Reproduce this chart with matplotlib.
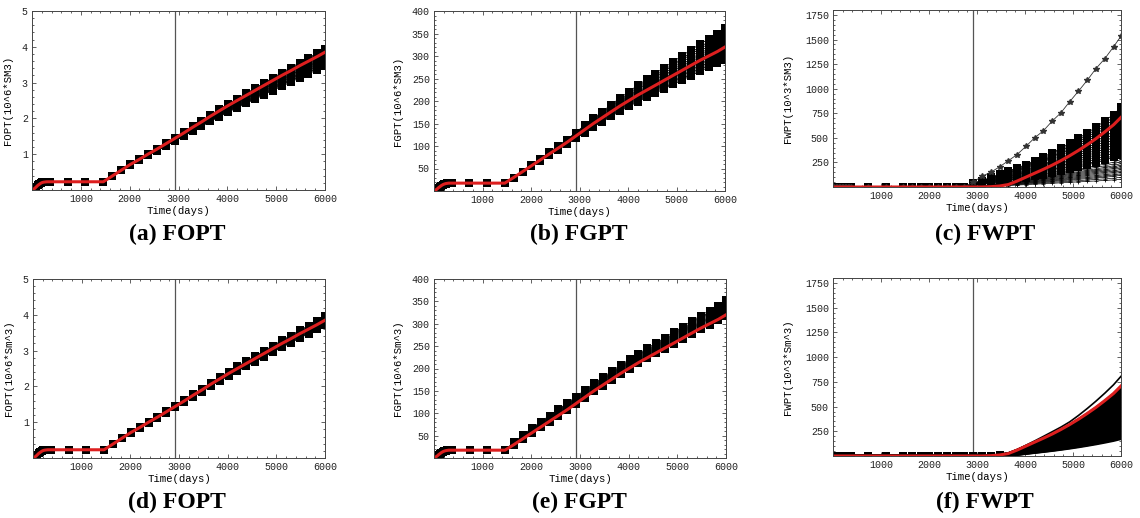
import matplotlib
matplotlib.use("Agg")
from matplotlib import pyplot as plt
from matplotlib.ticker import AutoMinorLocator

# report times (days)
days = [0, 31, 59, 90, 120, 151, 181, 212, 243, 273, 304, 334, 365,
        730, 1095, 1460,
        1643, 1826, 2008, 2191, 2374, 2556, 2739, 2922,
        3104, 3287, 3470, 3652, 3835, 4018, 4200, 4383, 4566, 4748,
        4931, 5114, 5296, 5479, 5662, 5844, 6000]
history_end = 2922

# reference (red) curves
fopt_ref = [0.0, 0.02, 0.05, 0.09, 0.13, 0.16, 0.19, 0.21, 0.22, 0.225, 0.23, 0.23, 0.23,
            0.23, 0.23, 0.23,
            0.39, 0.55, 0.71, 0.85, 1.00, 1.14, 1.29, 1.44,
            1.59, 1.75, 1.90, 2.06, 2.21, 2.36, 2.50, 2.64, 2.78, 2.92,
            3.06, 3.20, 3.33, 3.47, 3.60, 3.73, 3.85]
fgpt_ref = [0, 2, 4, 7, 9.5, 12, 14, 15.5, 16.5, 17, 17.5, 17.5, 17.5,
            17.5, 17.5, 17.5,
            30, 43, 56, 69, 82, 95, 108, 122,
            136, 150, 163, 176, 189, 201, 213, 224, 235, 246,
            257, 268, 279, 290, 300, 310, 320]
fwpt_ref = [0.0] * 25 + [3, 10, 25, 60, 100, 140, 180, 222, 268,
                         318, 372, 430, 492, 560, 632, 708]

# how far each member has moved away from the reference (0 = same, 1 = final spread)
cum_spread = [0.0] * 18 + [0.03, 0.06, 0.09, 0.12, 0.15, 0.19,
                           0.23, 0.27, 0.32, 0.37, 0.42, 0.47, 0.52, 0.57, 0.62, 0.67,
                           0.72, 0.77, 0.82, 0.86, 0.90, 0.95, 1.0]
fgpt_e_spread = [0.0] * 16 + [0.15, 0.25, 0.32, 0.36, 0.40, 0.43, 0.46, 0.48,
                              0.50, 0.52, 0.54, 0.56, 0.58, 0.60, 0.63, 0.66, 0.69, 0.72,
                              0.76, 0.80, 0.84, 0.88, 0.92, 0.96, 1.0]
fwpt_sq_shape = [0.0] * 23 + [0.05, 0.08, 0.12, 0.16, 0.20, 0.24, 0.28, 0.33, 0.38,
                              0.43, 0.49, 0.55, 0.61, 0.68, 0.75, 0.83, 0.91, 1.0]
fwpt_lo_shape = [0.0] * 24 + [0.04, 0.09, 0.14, 0.19, 0.25, 0.30, 0.36, 0.41, 0.47,
                              0.53, 0.59, 0.65, 0.71, 0.77, 0.83, 0.90, 1.0]

# final values of the ensemble members
fopt_a_end = [3.95, 3.92, 3.90, 3.88, 3.85, 3.82, 3.80, 3.78, 3.75, 3.72,
              3.70, 3.68, 3.65, 3.62, 3.60, 3.57, 3.55, 3.52, 3.50, 3.46]
fgpt_b_end = [362, 355, 350, 344, 338, 333, 328, 324, 320, 316, 312, 308, 304, 300, 296, 292]
fwpt_c_sq_end = [810, 780, 750, 720, 690, 660, 620, 590, 560, 530, 500, 470, 440, 410, 380, 350, 330]
fwpt_c_lo_end = [280, 260, 240, 225, 210, 195, 180, 165, 150, 135, 120, 100, 80]
fwpt_c_outlier = [0.0] * 23 + [50, 110, 150, 205, 267, 330, 413, 500, 572,
                               670, 755, 868, 975, 1085, 1205, 1305, 1425, 1535]
fopt_d_end = [3.96, 3.93, 3.91, 3.89, 3.87, 3.85, 3.83, 3.81, 3.79, 3.77, 3.75, 3.73, 3.71]
fgpt_e_end = [352, 348, 345, 342, 339, 336, 333, 330, 327, 324, 321, 318]
fwpt_f_end = [700, 690, 675, 660, 640, 620, 600, 580, 560, 540, 520, 500, 480, 460, 440,
              420, 400, 380, 360, 340, 320, 300, 280, 260, 240, 220, 200, 185, 175]
fwpt_f_top = [0.0] * 27 + [22, 62, 108, 152, 198, 245, 292, 345, 410, 480, 555, 635, 720, 806]

RED = '#dd1f1f'
MONO = 'Liberation Mono'

fig = plt.figure(figsize=(11.4, 5.18), dpi=100)


def add_axes(l, r, t, b):
    return fig.add_axes([l / 1140, 1 - b / 518, (r - l) / 1140, (b - t) / 518])


def member(ref, end, spread):
    return [r + (end - ref[-1]) * s for r, s in zip(ref, spread)]


def style(ax, yticks, ymax, ylabel, ylab_x, caption, cap_x, cap_y):
    ax.axvline(history_end, color='#555555', lw=0.9, zorder=0)
    ax.set_xlim(0, 6000)
    ax.set_ylim(0, ymax)
    ax.set_xticks([1000, 2000, 3000, 4000, 5000, 6000])
    ax.set_yticks(yticks)
    ax.xaxis.set_minor_locator(AutoMinorLocator(5))
    ax.yaxis.set_minor_locator(AutoMinorLocator(5))
    ax.tick_params(which='both', direction='in', top=True, right=True, width=0.5,
                   labelsize=7.2, pad=3, colors='#222222')
    ax.tick_params(which='major', length=3)
    ax.tick_params(which='minor', length=1.5)
    for lbl in ax.get_xticklabels() + ax.get_yticklabels():
        lbl.set_family(MONO)
    for sp in ax.spines.values():
        sp.set_linewidth(0.7)
        sp.set_color('#444444')
    ax.set_xlabel('Time(days)', family=MONO, fontsize=7.7)
    ax.xaxis.set_label_coords(0.5, -0.117)
    ax.xaxis.label.set_va('center')
    ax.set_ylabel(ylabel, family=MONO, fontsize=7.7)
    ax.yaxis.set_label_coords(ylab_x, 0.5)
    fig.text(cap_x / 1140, 1 - cap_y / 518, caption, ha='center', va='baseline',
             family='Liberation Serif', fontweight='bold', fontsize=17)


sq = dict(color='black', lw=0.6, marker='s', markersize=5.3, markeredgewidth=0)

# (a) FOPT
ax = add_axes(32, 325, 11, 190)
for e in fopt_a_end:
    ax.plot(days, member(fopt_ref, e, cum_spread), **sq)
ax.plot(days, fopt_ref, color=RED, lw=2.2)
style(ax, [1, 2, 3, 4, 5], 5, 'FOPT(10^6*SM3)', -0.065, '(a) FOPT', 177, 240)

# (b) FGPT
ax = add_axes(434, 725, 11, 191)
for e in fgpt_b_end:
    ax.plot(days, member(fgpt_ref, e, cum_spread), **sq)
ax.plot(days, fgpt_ref, color=RED, lw=2.2)
style(ax, [50, 100, 150, 200, 250, 300, 350, 400], 400, 'FGPT(10^6*SM3)', -0.107,
      '(b) FGPT', 579, 240)

# (c) FWPT
ax = add_axes(833, 1121, 10, 187)
for e in fwpt_c_lo_end:
    ax.plot(days, [e * s for s in fwpt_lo_shape], color='black', lw=0.5,
            marker='+', markersize=2.5, markeredgewidth=0.5)
for e in fwpt_c_sq_end:
    ax.plot(days, [e * s for s in fwpt_sq_shape], **sq)
ax.plot(days, fwpt_c_outlier, color='#333333', lw=0.6, marker='*', markersize=4)
ax.plot(days, fwpt_ref, color=RED, lw=2.2)
style(ax, [250, 500, 750, 1000, 1250, 1500, 1750], 1800, 'FWPT(10^3*SM3)', -0.139,
      '(c) FWPT', 985, 240)

# (d) FOPT
ax = add_axes(33, 325, 279, 458)
for e in fopt_d_end:
    ax.plot(days, member(fopt_ref, e, cum_spread), **sq)
ax.plot(days, fopt_ref, color=RED, lw=2.2)
style(ax, [1, 2, 3, 4, 5], 5, 'FOPT(10^6*Sm^3)', -0.065, '(d) FOPT', 177, 508)

# (e) FGPT
ax = add_axes(434, 726, 279, 458)
for e in fgpt_e_end:
    ax.plot(days, member(fgpt_ref, e, fgpt_e_spread), **sq)
ax.plot(days, fgpt_ref, color=RED, lw=2.2)
style(ax, [50, 100, 150, 200, 250, 300, 350, 400], 400, 'FGPT(10^6*Sm^3)', -0.107,
      '(e) FGPT', 579, 508)

# (f) FWPT
ax = add_axes(833, 1121, 278, 456)
n_hist = sum(1 for d in days if d <= 3470)
for e in fwpt_f_end:
    vals = [e * r / fwpt_ref[-1] for r in fwpt_ref]
    ax.plot(days, vals, color='black', lw=2.0)
    ax.plot(days[:n_hist], vals[:n_hist], 's', color='black', markersize=5.3,
            markeredgewidth=0)
ax.plot(days, fwpt_f_top, color='black', lw=1.2)
ax.plot(days, fwpt_ref, color=RED, lw=2.2)
style(ax, [250, 500, 750, 1000, 1250, 1500, 1750], 1800, 'FWPT(10^3*Sm^3)', -0.139,
      '(f) FWPT', 985, 508)

plt.savefig('out.png', dpi=100)
